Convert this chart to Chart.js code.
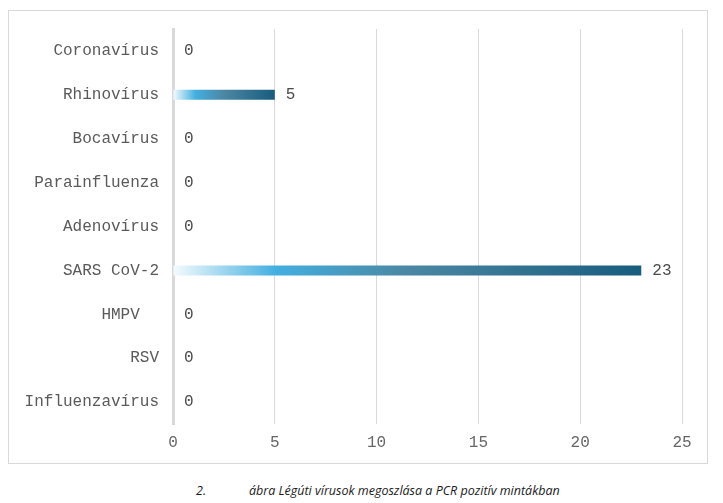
<!DOCTYPE html>
<html>
<head>
<meta charset="utf-8">
<script src="https://cdn.jsdelivr.net/npm/chart.js@4.4.0/dist/chart.umd.min.js"></script>
<style>
    html, body { margin: 0; padding: 0; background: #fff; }
    #chartBox {
        position: absolute; left: 8px; top: 10px;
        width: 700px; height: 454px;
        box-sizing: border-box; border: 1px solid #d9d9d9;
    }
    .caption {
        position: absolute; top: 482px;
        font-family: "Open Sans", sans-serif; font-style: italic;
        font-size: 12.5px; color: #1a1a1a;
        white-space: nowrap; letter-spacing: 0px;
    }
</style>
</head>
<body>
<div id="chartBox"><canvas id="chart"></canvas></div>
<div class="caption" style="left:196px">2.</div>
<div class="caption" style="left:249px">ábra Légúti vírusok megoszlása a PCR pozitív mintákban</div>
<script>
(function () {

    'use strict';

    // chart data
    const categories = ['Coronavírus', 'Rhinovírus', 'Bocavírus', 'Parainfluenza', 'Adenovírus',
        'SARS CoV-2', 'HMPV  ', 'RSV', 'Influenzavírus'];
    const values = [0, 5, 0, 0, 0, 23, 0, 0, 0];
    const xTicks = [0, 5, 10, 15, 20, 25];

    const monoFont = { family: '"Courier New", "Nimbus Mono PS", "FreeMono", "Liberation Mono", monospace', size: 16 };

    // each bar gets its own white -> blue -> dark teal gradient
    function barGradient(context) {
        let chart = context.chart;
        let x = chart.scales.x;
        if (!chart.chartArea || !x || context.type !== 'data') {
            return 'rgba(0,0,0,0)';
        }
        let start = x.getPixelForValue(0);
        let end = x.getPixelForValue(context.raw);
        if (end - start < 1) {
            return 'rgba(0,0,0,0)';
        }
        let g = chart.ctx.createLinearGradient(start, 0, end, 0);
        g.addColorStop(0, '#f5fbfe');
        g.addColorStop(0.22, '#43afe0');
        g.addColorStop(0.5, '#4b87a3');
        g.addColorStop(1, '#175c7e');
        return g;
    }

    // value labels to the right of each bar
    const valueLabels = {
        id: 'valueLabels',
        afterDatasetsDraw(chart) {
            let ctx = chart.ctx;
            let meta = chart.getDatasetMeta(0);
            ctx.save();
            ctx.font = '16px ' + monoFont.family;
            ctx.fillStyle = '#4a4a4a';
            ctx.textAlign = 'left';
            ctx.textBaseline = 'middle';
            meta.data.forEach((bar, i) => {
                ctx.fillText(String(values[i]), bar.x + 11, bar.y);
            });
            ctx.restore();
        }
    };

    let config = {
        type: 'bar',
        data: {
            labels: categories,
            datasets: [{
                data: values,
                backgroundColor: barGradient,
                barThickness: 10,
                borderWidth: 0,
                inflateAmount: 0
            }]
        },
        options: {
            indexAxis: 'y',
            responsive: true,
            maintainAspectRatio: false,
            animation: false,
            layout: { padding: { top: 18, right: 25, bottom: 0, left: 0 } },
            plugins: {
                legend: { display: false },
                tooltip: { enabled: false }
            },
            scales: {
                x: {
                    min: 0,
                    max: 25,
                    afterBuildTicks: (scale) => {
                        scale.ticks = xTicks.map(v => ({ value: v }));
                    },
                    afterFit: (scale) => {
                        scale.height = 39;
                        scale.paddingLeft = 0;
                        scale.paddingRight = 0;
                    },
                    grid: { color: '#d9d9d9', lineWidth: 1, drawTicks: false },
                    border: { display: false },
                    ticks: { color: '#666666', font: monoFont, padding: 9 }
                },
                y: {
                    afterFit: (scale) => {
                        scale.width = 164;
                        scale.paddingTop = 0;
                        scale.paddingBottom = 0;
                    },
                    grid: { display: false, drawTicks: false },
                    border: { display: true, color: '#d9d9d9', width: 3 },
                    ticks: { color: '#5a5a5a', font: monoFont, padding: 14 }
                }
            }
        },
        plugins: [valueLabels]
    };

    new Chart(document.getElementById('chart'), config);

})();
</script>
</body>
</html>
